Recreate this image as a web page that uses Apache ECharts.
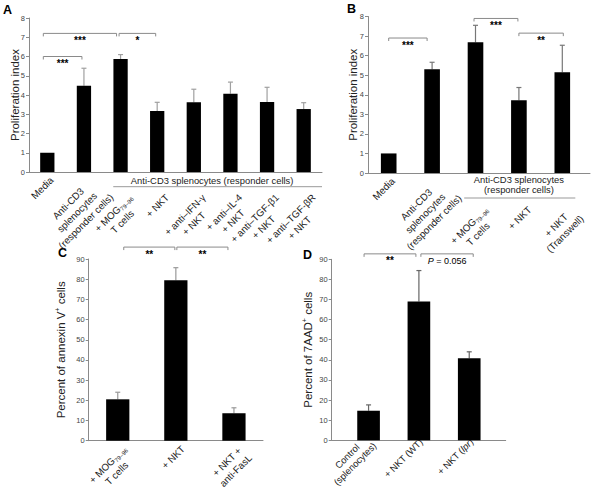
<!DOCTYPE html>
<html><head><meta charset="utf-8">
<script src="https://cdn.jsdelivr.net/npm/echarts@6/dist/echarts.min.js"></script>
<style>html,body{margin:0;padding:0;background:#fff}#c{width:593px;height:492px}</style>
</head><body><div id="c"></div>
<script>
const FONT = '"Liberation Sans", Arial, Helvetica, sans-serif';

// ---------- Panel A ----------
const catsA = ['Media', 'Anti-CD3\nsplenocytes\n(responder cells)', '+ MOG_{79–96}\nT cells', '+ NKT',
  '+ anti–IFN-γ\n+ NKT', '+ anti–IL-4\n+ NKT', '+ anti–TGF-β1\n+ NKT', '+ anti–TGF-βR\n+ NKT'];
const valA = [1.0, 4.48, 5.87, 3.17, 3.62, 4.07, 3.64, 3.27];
const errA = [null, 5.39, 6.1, 3.62, 4.3, 4.67, 4.4, 3.6];
const groupA = [2, 7];
const groupTextA = 'Anti-CD3 splenocytes (responder cells)';
const bracketsA = [
  {from: 0, to: 1, y: 6.0, t: '***'},
  {from: 0, to: 2, y: 7.2, t: '***'},
  {from: 2, to: 3, y: 7.2, t: '*'}
];
const titleA = 'Proliferation index';
const ticksAB = [0, 8, 1];

// ---------- Panel B ----------
const catsB = ['Media', 'Anti-CD3\nsplenocytes\n(responder cells)', '+ MOG_{79–96}\nT cells', '+ NKT', '+ NKT\n(Transwell)'];
const valB = [1.0, 5.3, 6.68, 3.72, 5.15];
const errB = [null, 5.66, 7.55, 4.37, 6.53];
const groupB = [2, 4];
const groupTextB = 'Anti-CD3 splenocytes\n(responder cells)';
const bracketsB = [
  {from: 0, to: 1, y: 6.9, t: '***'},
  {from: 2, to: 3, y: 7.9, t: '***'},
  {from: 3, to: 4, y: 7.15, t: '**'}
];

// ---------- Panel C ----------
const catsC = ['+ MOG_{79–96}\nT cells', '+ NKT', '+ NKT +\nanti-FasL'];
const valC = [20.5, 79.5, 13.6];
const errC = [24.0, 85.7, 16.3];
const bracketsC = [
  {from: 0, to: 1, y: 95.9, t: '**'},
  {from: 1, to: 2, y: 95.9, t: '**'}
];
const titleC = 'Percent of annexin V^{+} cells';
const ticksCD = [0, 90, 10];

// ---------- Panel D ----------
const catsD = ['Control\n(splenocytes)', '+ NKT (WT)', '+ NKT (~{lpr})'];
const valD = [14.7, 69.0, 40.8];
const errD = [17.6, 84.4, 44.0];
const bracketsD = [
  {from: 0, to: 1, y: 92.7, t: '**'},
  {from: 1, to: 2, y: 92.7, t: '~{P} = 0.056'}
];
const titleD = 'Percent of 7AAD^{+} cells';

// ---------- styling helpers ----------
const nudgeA = [[-4, -2], [-4, -4], [-1.5, -1.5]];
const nudgeB = [[0, -5], [-1.5, -1], [0, 1]];
const nudgeC = [[6, -1], [1, -6]];
const nudgeD = [[-4.5, -3], [2, 4]];

const LBL = 9.8;
const LH = 12.5;
const rich = {
  c: {align: 'center', fontSize: LBL, fontFamily: FONT, color: '#222', lineHeight: LH},
  ci: {align: 'center', fontSize: LBL, fontFamily: FONT, color: '#222', lineHeight: LH, fontStyle: 'italic'},
  s: {align: 'center', fontSize: 6, fontFamily: FONT, color: '#222', lineHeight: 4, verticalAlign: 'bottom'},
  d: {align: 'center', fontSize: 9.4, fontFamily: FONT, color: '#222', lineHeight: 11},
  di: {align: 'center', fontSize: 9.4, fontFamily: FONT, color: '#222', lineHeight: 11, fontStyle: 'italic'},
  t: {fontSize: 11.5, fontFamily: FONT, color: '#222', lineHeight: 14},
  sup: {fontSize: 7, fontFamily: FONT, color: '#222', lineHeight: 8, verticalAlign: 'top'},
  b: {fontSize: 10, fontFamily: FONT, color: '#111', fontWeight: 'bold', lineHeight: 11},
  bi: {fontSize: 9, fontFamily: FONT, color: '#111', fontStyle: 'italic', lineHeight: 11},
  bt: {fontSize: 9, fontFamily: FONT, color: '#111', lineHeight: 11}
};
function toRich(str, base, sub, ital, sup) {
  return str.split('\n').map(line => {
    const parts = line.split(/(_\{[^}]*\}|~\{[^}]*\}|\^\{[^}]*\})/).filter(p => p !== '');
    return parts.map(p => {
      if (p.startsWith('_{')) return '{' + sub + '|' + p.slice(2, -1) + '}';
      if (p.startsWith('~{')) return '{' + ital + '|' + p.slice(2, -1) + '}';
      if (p.startsWith('^{')) return '{' + sup + '|' + p.slice(2, -1) + '}';
      return '{' + base + '|' + p + '}';
    }).join('');
  }).join('\n');
}

const GRAY = '#8a8a8a';
function grid(left, top, width, height) {
  return {left, top, width, height, containLabel: false, outerBoundsMode: 'none'};
}
function xAx(gi, cats, opts) {
  return Object.assign({
    type: 'category', gridIndex: gi, data: cats, position: 'bottom',
    axisLine: {show: false, lineStyle: {color: GRAY, width: 1}},
    axisTick: {show: false}, splitLine: {show: false},
    axisLabel: {show: false}
  }, opts);
}
function labelsFor(cats, idxs, margin, shift, vAlign, small) {
  return {show: true, interval: 0, rotate: 45, margin, hideOverlap: false,
    align: 'right', verticalAlign: vAlign || 'top', padding: [0, -shift, 0, 0],
    formatter: (v, i) => idxs.includes(i) ? (small ? toRich(cats[i], 'd', 's', 'di', 'sup') : toRich(cats[i], 'c', 's', 'ci', 'sup')) : '',
    rich};
}
const LINE = {show: true, lineStyle: {color: GRAY, width: 1}};
function yAx(gi, ticks, opts) {
  return Object.assign({
    type: 'value', gridIndex: gi, min: ticks[0], max: ticks[1], interval: ticks[2],
    axisLine: {show: true, lineStyle: {color: GRAY, width: 1}},
    axisTick: {show: true, length: 3, lineStyle: {color: GRAY}},
    splitLine: {show: false},
    axisLabel: {show: true, fontSize: 7.5, fontFamily: FONT, color: '#444', margin: 4},
    nameLocation: 'middle', nameMoveOverlap: false
  }, opts);
}
function hiddenY(gi, ticks) {
  return {type: 'value', gridIndex: gi, min: ticks[0], max: ticks[1], interval: ticks[2], show: false};
}
function bars(xi, yi, vals, bw) {
  return {type: 'bar', xAxisIndex: xi, yAxisIndex: yi, data: vals, barWidth: bw,
    itemStyle: {color: '#000'}, z: 3, silent: true};
}
function errSeries(xi, yi, vals, tops, color) {
  return {type: 'custom', xAxisIndex: xi, yAxisIndex: yi, clip: false, silent: true, z: 2,
    data: vals.map((v, i) => [i, v, tops[i] == null ? v : tops[i]]),
    encode: {x: 0, y: [1, 2]},
    renderItem: (params, api) => {
      const i = api.value(0), v = api.value(1), e = api.value(2);
      if (!(e > v)) return {type: 'group', children: []};
      const p0 = api.coord([i, v]), p1 = api.coord([i, e]);
      return {type: 'group', children: [
        {type: 'line', shape: {x1: p0[0], y1: p0[1], x2: p1[0], y2: p1[1]}, style: {stroke: color, lineWidth: 1.2}},
        {type: 'line', shape: {x1: p1[0] - 2.5, y1: p1[1], x2: p1[0] + 2.5, y2: p1[1]}, style: {stroke: color, lineWidth: 1.2}}
      ]};
    }};
}
function bracketSeries(xi, yi, list, nudges) {
  return {type: 'custom', xAxisIndex: xi, yAxisIndex: yi, clip: false, silent: true, z: 5,
    data: list.map(b => [b.from, b.to, b.y]),
    encode: {x: [0, 1], y: 2},
    renderItem: (params, api) => {
      const b = list[params.dataIndex], n = nudges[params.dataIndex];
      const p1 = api.coord([api.value(0), api.value(2)]);
      const p2 = api.coord([api.value(1), api.value(2)]);
      const x1 = p1[0] + n[0], x2 = p2[0] + n[1], y = p1[1];
      const stars = /^\*+$/.test(b.t);
      return {type: 'group', children: [
        {type: 'polyline', shape: {points: [[x1, y + 3], [x1, y], [x2, y], [x2, y + 3]]},
          style: {stroke: GRAY, lineWidth: 1, fill: null}},
        {type: 'text', x: (x1 + x2) / 2, y: y + (stars ? 1.5 : 2),
          style: {text: stars ? '{b|' + b.t + '}' : toRich(b.t, 'bt', 'bt', 'bi', 'bt'), rich,
            align: 'center', verticalAlign: 'top'}}
      ]};
    }};
}
function groupSeries(xi, yi, range, text, l, r, textDy, lineDy, lh) {
  return {type: 'custom', xAxisIndex: xi, yAxisIndex: yi, clip: false, silent: true, z: 5,
    data: [[range[0], range[1], 0]],
    encode: {x: [0, 1], y: 2},
    renderItem: (params, api) => {
      const p1 = api.coord([api.value(0), 0]);
      const p2 = api.coord([api.value(1), 0]);
      const bw = api.size([1, 0])[0];
      const y0 = p1[1];
      return {type: 'group', children: [
        {type: 'text', x: (p1[0] + p2[0]) / 2, y: y0 + textDy,
          style: {text, fontSize: 9.4, fontFamily: FONT, fill: '#222', align: 'center', verticalAlign: 'middle', lineHeight: lh}},
        {type: 'line', shape: {x1: p1[0] - l * bw, y1: y0 + lineDy, x2: p2[0] + r * bw, y2: y0 + lineDy},
          style: {stroke: '#999', lineWidth: 1}}
      ]};
    }};
}

const idx = arr => arr.map((_, i) => i);
const lowerA = idx(catsA).filter(i => i >= groupA[0]);
const lowerB = idx(catsB).filter(i => i >= groupB[0]);

const option = {
  animation: false,
  backgroundColor: '#fff',
  textStyle: {fontFamily: FONT},
  grid: [
    grid(29, 18, 293, 154),        // 0 A
    grid(368, 16.5, 222, 156.5),   // 1 B axes
    grid(367, 16.5, 217, 156.5),   // 2 B bars
    grid(88.7, 259, 174.3, 181.7), // 3 C
    grid(331.7, 259.3, 174, 181),  // 4 D axes
    grid(343.4, 259.3, 151, 181)   // 5 D bars
  ],
  xAxis: [
    xAx(0, catsA, {axisLine: LINE, axisLabel: labelsFor(catsA, [0], 2, 0)}),          // 0
    xAx(0, catsA, {axisLabel: labelsFor(catsA, [1], 7, 8)}),                          // 1
    xAx(0, catsA, {offset: 22, axisLabel: labelsFor(catsA, lowerA, 3, 8)}),           // 2
    xAx(1, catsB, {axisLine: LINE}),                                                  // 3
    xAx(2, catsB, {axisLabel: labelsFor(catsB, [0], 2, 0)}),                          // 4
    xAx(2, catsB, {axisLabel: labelsFor(catsB, [1], 7, 8)}),                          // 5
    xAx(2, catsB, {offset: 34, axisLabel: labelsFor(catsB, lowerB, 3, 9)}),           // 6
    xAx(3, catsC, {axisLine: LINE, axisLabel: labelsFor(catsC, [0, 1, 2], 5, 4)}),    // 7
    xAx(4, catsD, {axisLine: LINE}),                                                  // 8
    xAx(5, catsD, {axisLabel: labelsFor(catsD, [0, 1, 2], 2, 3, 'middle', true)})     // 9
  ],
  yAxis: [
    yAx(0, ticksAB, {name: toRich(titleA, 't', 't', 't', 'sup'), nameGap: 7, nameTextStyle: {rich}}),
    yAx(1, ticksAB, {name: toRich(titleA, 't', 't', 't', 'sup'), nameGap: 8, nameTextStyle: {rich}}),
    hiddenY(2, ticksAB),
    yAx(3, ticksCD, {name: toRich(titleC, 't', 't', 't', 'sup'), nameGap: 21, nameTextStyle: {rich}}),
    yAx(4, ticksCD, {name: toRich(titleD, 't', 't', 't', 'sup'), nameGap: 17, nameTextStyle: {rich}}),
    hiddenY(5, ticksCD)
  ],
  series: [
    bars(0, 0, valA, '39%'),
    errSeries(0, 0, valA, errA, '#a0a0a0'),
    bracketSeries(0, 0, bracketsA, nudgeA),
    groupSeries(0, 0, groupA, groupTextA, 0.2, 0.5, 8, 14.7, 11),
    bars(4, 2, valB, '36%'),
    errSeries(4, 2, valB, errB, '#777'),
    bracketSeries(4, 2, bracketsB, nudgeB),
    groupSeries(4, 2, groupB, groupTextB, 0.26, 0.3, 11.5, 25, 9.5),
    bars(7, 3, valC, '40%'),
    errSeries(7, 3, valC, errC, '#999'),
    bracketSeries(7, 3, bracketsC, nudgeC),
    bars(9, 5, valD, '45%'),
    errSeries(9, 5, valD, errD, '#666'),
    bracketSeries(9, 5, bracketsD, nudgeD)
  ],
  graphic: [
    {type: 'text', left: 3, top: 3, style: {text: 'A', fontSize: 12.5, fontWeight: 'bold', fontFamily: FONT, fill: '#000'}},
    {type: 'text', left: 347, top: 2, style: {text: 'B', fontSize: 12.5, fontWeight: 'bold', fontFamily: FONT, fill: '#000'}},
    {type: 'text', left: 58, top: 246, style: {text: 'C', fontSize: 12.5, fontWeight: 'bold', fontFamily: FONT, fill: '#000'}},
    {type: 'text', left: 303, top: 248, style: {text: 'D', fontSize: 12.5, fontWeight: 'bold', fontFamily: FONT, fill: '#000'}}
  ]
};

const chart = echarts.init(document.getElementById('c'), null, {renderer: 'svg', width: 593, height: 492});
chart.setOption(option);
</script>
</body></html>
